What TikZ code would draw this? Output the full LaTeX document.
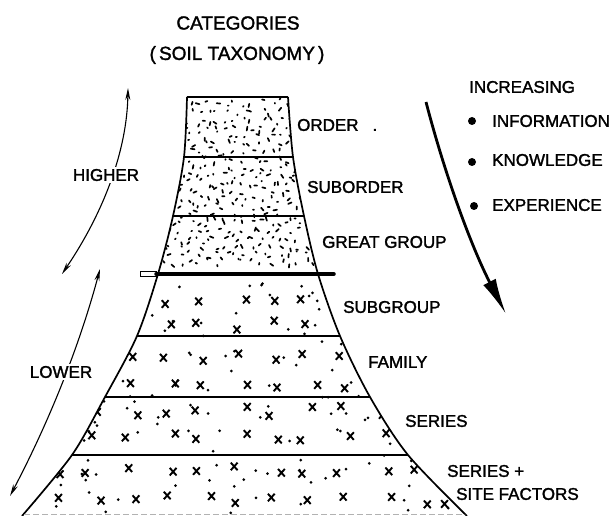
\documentclass[tikz,border=0pt]{standalone}
\usepackage{fontspec}
\setmainfont{Liberation Sans}[FakeBold=1.6,AutoFakeBold=1.6]
\usetikzlibrary{arrows.meta}
\begin{document}
\begin{tikzpicture}[x=1pt,y=-1pt,
  lbl/.style={anchor=west,inner sep=0pt,font=\fontsize{17}{20}\selectfont\bfseries},
  side/.style={line width=1.7pt},
  sep/.style={line width=2.1pt},
  speck/.style={line width=1.7pt,line cap=round},
  xmark/.style={line width=1.9pt},
  dbl/.style={line width=1.1pt,{Stealth[length=12pt,width=5pt]}-{Stealth[length=12pt,width=5pt]}},
  bullet/.style={circle,fill=black,inner sep=0pt,minimum size=8pt}
]
\useasboundingbox (0,0) rectangle (614,516);
\fill[white] (0,0) rectangle (614,516);

% corner coordinates of the cone
\coordinate (L1) at (187,97);  \coordinate (R1) at (288,97);
\coordinate (L2) at (184,157); \coordinate (R2) at (293,157);
\coordinate (L3) at (173,216); \coordinate (R3) at (304,216);
\coordinate (L4) at (158,274); \coordinate (R4) at (318,274);
\coordinate (L5) at (137,336); \coordinate (R5) at (340,336);
\coordinate (L6) at (105,397); \coordinate (R6) at (370,397);
\coordinate (L7) at (72,455);  \coordinate (R7) at (408,455);
\coordinate (L8) at (22,516);  \coordinate (R8) at (467,516);

% stipple
\begin{scope}
\clip plot[smooth] coordinates {(187,97) (184,157) (173,216) (158,274) (137,336) (105,397) (72,455) (22,516)}
  -- plot[smooth] coordinates {(467,516) (408,455) (370,397) (340,336) (318,274) (304,216) (293,157) (288,97)} -- cycle;
\pgfmathsetseed{23}
% upper: specks on a jittered grid
\foreach \gy in {103,111,...,269}{
  \foreach \gx in {154,163,...,322}{
    \pgfmathsetmacro{\px}{\gx+8*rnd-4}
    \pgfmathsetmacro{\py}{\gy+7*rnd-3.5}
    \pgfmathsetmacro{\pa}{360*rnd}
    \pgfmathsetmacro{\pl}{0.6+3.4*rnd}
    \draw[speck] (\px,\py) -- ++(\pa:\pl);
  }
}
% lower: crosses
\foreach \ry in {300,325,356,385,411,438,470,500}{
  \foreach \rx in {22,58,...,470}{
    \pgfmathsetmacro{\qx}{\rx+20*rnd-10}
    \pgfmathsetmacro{\qy}{\ry+10*rnd-5}
    \draw[xmark] (\qx-3.4,\qy-3.8) -- (\qx+3.4,\qy+3.8) (\qx-3.4,\qy+3.8) -- (\qx+3.4,\qy-3.8);
  }
}
% lower: dots
\foreach \i in {1,...,140}{
  \pgfmathsetmacro{\px}{20+450*rnd}
  \pgfmathsetmacro{\py}{281+232*rnd}
  \fill (\px,\py) circle (1.5);
}
\end{scope}

% outline
\draw[side] plot[smooth] coordinates {(187,97) (184,157) (173,216) (158,274) (137,336) (105,397) (72,455) (22,516)};
\draw[side] plot[smooth] coordinates {(288,97) (293,157) (304,216) (318,274) (340,336) (370,397) (408,455) (467,516)};
\draw[sep] (L1) -- (R1);
\draw[sep] (L2) -- (R2);
\draw[sep] (L3) -- (R3);
\draw[sep] (L5) -- (R5);
\draw[sep] (L6) -- (R6);
\draw[sep] (L7) -- (R7);
\draw[gray!60,line width=0.8pt,dash pattern=on 6pt off 3pt] (24,514) -- (465,514);

% thick dividing bar
\coordinate (barA) at (140,274);
\coordinate (barB) at (156,274);
\coordinate (barC) at (334,274);
\draw[line width=0.9pt] (140,271.5) rectangle (156,276.5);
\draw[line width=3.5pt,line cap=round] (barB) -- (barC);

% titles
\node[font=\fontsize{19}{22}\selectfont\bfseries,inner sep=0pt] (cat) at (238,23) {CATEGORIES};
\node[font=\fontsize{19}{22}\selectfont\bfseries,inner sep=0pt] (tax) at (237,55) {(\,SOIL TAXONOMY\,)};

% category labels
\node[lbl] (order) at (297,125) {ORDER\hspace{14pt}.};
\node[lbl] (suborder) at (307,187) {SUBORDER};
\node[lbl] (ggroup) at (322,242) {GREAT GROUP};
\node[lbl] (subgroup) at (343,307) {SUBGROUP};
\node[lbl] (family) at (368,362) {FAMILY};
\node[lbl] (series) at (405,421) {SERIES};
\node[lbl] (seriesp) at (447,471) {SERIES +};
\node[lbl] (site) at (456,494) {SITE FACTORS};

% higher / lower arrows
\coordinate (hTop) at (128,88);
\coordinate (hBot) at (62,274);
\draw[dbl] (hTop) .. controls (127,150) and (104,212) .. (hBot);
\node[lbl,anchor=center,fill=white,inner sep=1.5pt] (higher) at (106,175) {HIGHER};
\coordinate (lTop) at (100,269);
\coordinate (lBot) at (10,496);
\draw[dbl] (lTop) .. controls (80,344) and (50,420) .. (lBot);
\node[lbl,anchor=center,fill=white,inner sep=1.5pt] (lower) at (61,372) {LOWER};

% increasing arrow and list
\coordinate (bTop) at (426,102);
\coordinate (bTip) at (506,314);
\draw[line width=2.8pt,-{Latex[length=36pt,width=14pt]}] (bTop) .. controls (445,175) and (471,246) .. (bTip);
\node[lbl] (incr) at (469,87) {INCREASING};
\node[bullet] (b1) at (472,121) {};
\node[bullet] (b2) at (472,162) {};
\node[bullet] (b3) at (474,206) {};
\node[lbl] (info) at (492,121) {INFORMATION};
\node[lbl] (know) at (492,160) {KNOWLEDGE};
\node[lbl] (exp) at (492,205) {EXPERIENCE};
\end{tikzpicture}
\end{document}
